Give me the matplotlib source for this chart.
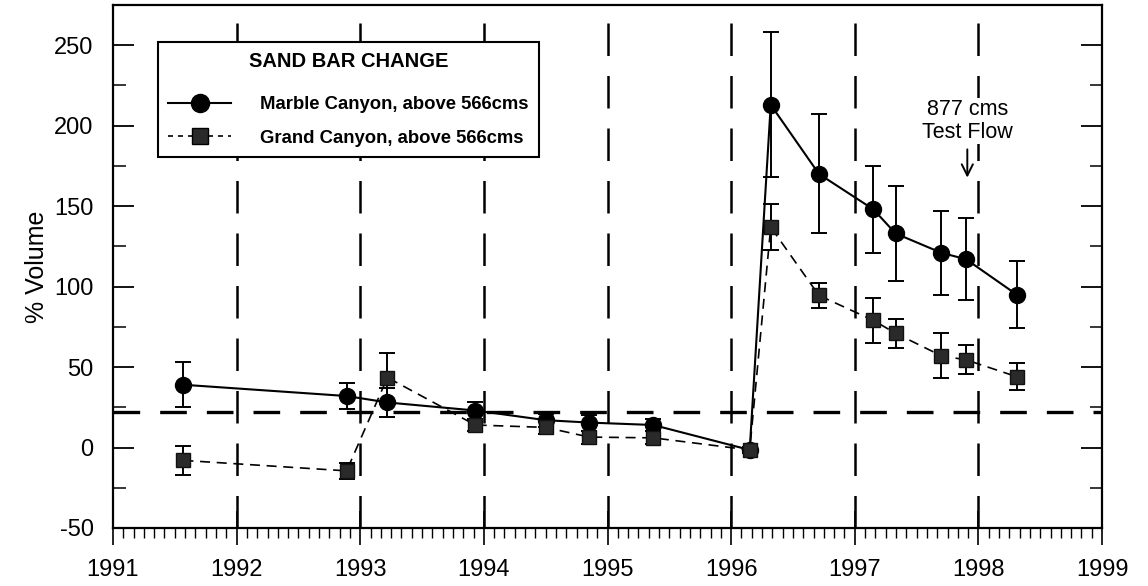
import matplotlib
matplotlib.use("Agg")
import matplotlib.pyplot as plt
from matplotlib.lines import Line2D
from matplotlib.ticker import MultipleLocator

plt.rcParams['font.family'] = ['Liberation Sans', 'DejaVu Sans']
plt.rcParams['axes.unicode_minus'] = False

# ---- data ----
years = [1991.57, 1992.89, 1993.22, 1993.93, 1994.50, 1994.85, 1995.37, 1996.15,
         1996.32, 1996.71, 1997.15, 1997.33, 1997.70, 1997.90, 1998.31]
marble = [39, 32, 28, 23, 17, 15.5, 14, -1.5, 213, 170, 148, 133, 121, 117, 95]
marble_err = [14, 8, 9, 5, 4, 5, 4, 2, 45, 37, 27, 29.5, 26, 25.5, 21]
grand = [-8, -14.5, 43.5, 14, 12.5, 6.5, 6, -1.5, 137, 94.5, 79, 71, 57, 54.5, 44]
grand_err = [9, 5, 15, 4, 4, 4, 4, 2, 14.5, 8, 14, 9, 14, 9, 8.5]
year_lines = [1992, 1993, 1994, 1995, 1996, 1997, 1998]
ref_level = 22
test_flow_year = 1997.91
test_flow_label = "877 cms\nTest Flow"
legend_title = "SAND BAR CHANGE"
marble_label = "Marble Canyon, above 566cms"
grand_label = "Grand Canyon, above 566cms"

fig = plt.figure(figsize=(11.48, 5.86), dpi=100)
ax = fig.add_axes([0.0984, 0.099, 0.8616, 0.8925])

for yl in year_lines:
    ax.axvline(yl, color='black', lw=1.8, dashes=(13, 8), zorder=1)
ax.axhline(ref_level, color='black', lw=2.4, dashes=(8, 6), zorder=1)

ax.errorbar(years, marble, yerr=marble_err, fmt='-o', color='black', lw=1.5,
            ms=11.5, elinewidth=1.4, capsize=6, capthick=1.4, zorder=3)
ax.errorbar(years, grand, yerr=grand_err, fmt='s', color='black', ls=(0, (6, 4)),
            lw=1.2, ms=9.5, mfc='#2a2a2a', mec='#111111', elinewidth=1.4,
            capsize=6, capthick=1.4, zorder=4)

ax.annotate("", xy=(test_flow_year, 166), xytext=(test_flow_year, 187),
            arrowprops=dict(arrowstyle='->', color='black', lw=1.4, mutation_scale=20),
            zorder=5)
ax.text(test_flow_year, 203, test_flow_label, ha='center', va='center',
        fontsize=15.5, linespacing=1.1, zorder=5,
        bbox=dict(facecolor='white', edgecolor='none', pad=1))

ax.set_xlim(1991, 1999)
ax.set_ylim(-50, 275)
ax.xaxis.set_major_locator(MultipleLocator(1))
ax.xaxis.set_minor_locator(MultipleLocator(1 / 12))
ax.yaxis.set_minor_locator(MultipleLocator(25))
ax.set_yticks([-50, 0, 50, 100, 150, 200, 250])

ax.tick_params(axis='x', which='major', direction='inout', length=24, width=1.2,
               labelsize=17, pad=10, top=False)
ax.tick_params(axis='x', which='minor', direction='out', length=7, width=1.0, top=False)
ax.tick_params(axis='y', which='major', direction='in', length=15, width=1.3,
               labelsize=17, pad=14, right=True)
ax.tick_params(axis='y', which='minor', direction='in', length=9, width=1.1, right=True)
ax.set_xticklabels([str(int(v)) for v in ax.get_xticks()])

for s in ax.spines.values():
    s.set_linewidth(1.6)

ax.set_ylabel("% Volume", fontsize=18, labelpad=4)

handles = [
    Line2D([], [], color='black', marker='o', ms=13, lw=1.5),
    Line2D([], [], color='black', marker='s', ms=11.5, mfc='#2a2a2a', lw=1.2, ls=(0, (3, 3))),
]
leg = ax.legend(handles, [marble_label, grand_label], loc='upper left',
                bbox_to_anchor=(0.0455, 0.929), borderaxespad=0, fancybox=False,
                framealpha=1, edgecolor='black', handlelength=3.4, handletextpad=1.6,
                borderpad=0.55, labelspacing=0.9, title=legend_title,
                prop={'weight': 'bold', 'size': 13.3},
                title_fontproperties={'weight': 'bold', 'size': 14.5})
leg.get_frame().set_linewidth(1.5)
leg._legend_box.sep = 18

fig.savefig("out.png", dpi=100)
